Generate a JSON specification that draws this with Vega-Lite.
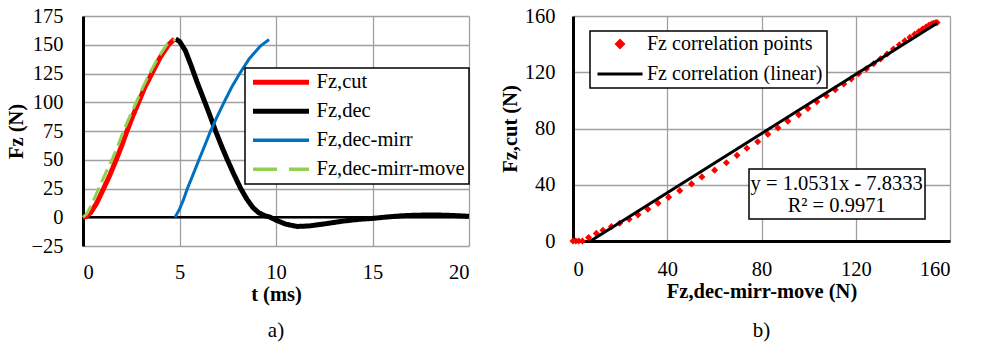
{
  "$schema": "https://vega.github.io/schema/vega-lite/v6.json",
  "background": "white",
  "padding": {"left": 6, "top": 6, "right": 5, "bottom": 2},
  "spacing": 104,
  "bounds": "flush",
  "resolve": {"scale": {"color": "independent"}, "legend": {"color": "independent"}},
  "config": {
    "font": "Liberation Serif",
    "view": {"stroke": null},
    "axis": {
      "labelFont": "Liberation Serif", "labelFontSize": 20.5, "labelColor": "black",
      "titleFont": "Liberation Serif", "titleFontSize": 20.5, "titleFontWeight": "bold", "titleColor": "black",
      "gridColor": "#a0a0a0", "gridWidth": 1.3, "gridOpacity": 1,
      "ticks": false, "tickSize": 0, "domainColor": "black", "domainWidth": 3
    },
    "legend": {"labelFont": "Liberation Serif", "labelFontSize": 20.5, "labelColor": "black", "labelLimit": 400},
    "title": {"font": "Liberation Serif", "fontSize": 21, "fontWeight": "normal", "color": "black"}
  },
  "hconcat": [
    {
      "width": 386, "height": 230,
      "title": {"text": "a)", "orient": "bottom", "offset": 15},
      "encoding": {
        "y": {"field": "F", "type": "quantitative", "scale": {"domain": [-25, 175], "nice": false},
              "axis": {"values": [-25, 0, 25, 50, 75, 100, 125, 150, 175], "title": "Fz (N)", "labelPadding": 20, "titlePadding": 4}}
      },
      "layer": [
        {
          "data": {"values": [{"F": 0}]},
          "mark": {"type": "rule", "color": "black", "strokeWidth": 2.5},
          "encoding": {}
        },
        {
          "data": {"values": [
            {"series": "Fz,cut", "t": 0, "F": 0}, {"series": "Fz,cut", "t": 0.15, "F": 0.5}, {"series": "Fz,cut", "t": 0.4, "F": 4},
            {"series": "Fz,cut", "t": 0.7, "F": 12}, {"series": "Fz,cut", "t": 1.07, "F": 25}, {"series": "Fz,cut", "t": 1.4, "F": 37},
            {"series": "Fz,cut", "t": 1.72, "F": 50}, {"series": "Fz,cut", "t": 2.0, "F": 62}, {"series": "Fz,cut", "t": 2.28, "F": 75},
            {"series": "Fz,cut", "t": 2.58, "F": 88}, {"series": "Fz,cut", "t": 2.88, "F": 100}, {"series": "Fz,cut", "t": 3.2, "F": 113},
            {"series": "Fz,cut", "t": 3.57, "F": 125}, {"series": "Fz,cut", "t": 4.0, "F": 139}, {"series": "Fz,cut", "t": 4.43, "F": 150},
            {"series": "Fz,cut", "t": 4.74, "F": 155},
            {"series": "Fz,dec", "t": 4.8, "F": 155}, {"series": "Fz,dec", "t": 5.0, "F": 153}, {"series": "Fz,dec", "t": 5.3, "F": 145},
            {"series": "Fz,dec", "t": 5.6, "F": 132}, {"series": "Fz,dec", "t": 5.9, "F": 118}, {"series": "Fz,dec", "t": 6.2, "F": 105},
            {"series": "Fz,dec", "t": 6.5, "F": 92}, {"series": "Fz,dec", "t": 6.87, "F": 75}, {"series": "Fz,dec", "t": 7.2, "F": 61},
            {"series": "Fz,dec", "t": 7.48, "F": 50}, {"series": "Fz,dec", "t": 7.8, "F": 38}, {"series": "Fz,dec", "t": 8.17, "F": 25},
            {"series": "Fz,dec", "t": 8.5, "F": 15.5}, {"series": "Fz,dec", "t": 8.8, "F": 8.5}, {"series": "Fz,dec", "t": 9.1, "F": 4},
            {"series": "Fz,dec", "t": 9.4, "F": 1.5}, {"series": "Fz,dec", "t": 9.7, "F": 0}, {"series": "Fz,dec", "t": 10.0, "F": -2.5},
            {"series": "Fz,dec", "t": 10.5, "F": -6}, {"series": "Fz,dec", "t": 11.1, "F": -8}, {"series": "Fz,dec", "t": 11.7, "F": -7.6},
            {"series": "Fz,dec", "t": 12.5, "F": -5.8}, {"series": "Fz,dec", "t": 13.5, "F": -3.3}, {"series": "Fz,dec", "t": 14.3, "F": -1.8},
            {"series": "Fz,dec", "t": 15.0, "F": -1}, {"series": "Fz,dec", "t": 15.8, "F": 0.3}, {"series": "Fz,dec", "t": 16.5, "F": 1.3},
            {"series": "Fz,dec", "t": 17.3, "F": 1.8}, {"series": "Fz,dec", "t": 18.3, "F": 2}, {"series": "Fz,dec", "t": 19.2, "F": 1.5},
            {"series": "Fz,dec", "t": 20, "F": 0.8},
            {"series": "Fz,dec-mirr", "t": 4.77, "F": 0}, {"series": "Fz,dec-mirr", "t": 5.0, "F": 7}, {"series": "Fz,dec-mirr", "t": 5.2, "F": 15},
            {"series": "Fz,dec-mirr", "t": 5.41, "F": 25}, {"series": "Fz,dec-mirr", "t": 5.7, "F": 37}, {"series": "Fz,dec-mirr", "t": 6.01, "F": 50},
            {"series": "Fz,dec-mirr", "t": 6.3, "F": 62}, {"series": "Fz,dec-mirr", "t": 6.61, "F": 75}, {"series": "Fz,dec-mirr", "t": 6.95, "F": 87.5},
            {"series": "Fz,dec-mirr", "t": 7.31, "F": 100}, {"series": "Fz,dec-mirr", "t": 7.7, "F": 113}, {"series": "Fz,dec-mirr", "t": 8.12, "F": 125},
            {"series": "Fz,dec-mirr", "t": 8.6, "F": 137.5}, {"series": "Fz,dec-mirr", "t": 9.2, "F": 149}, {"series": "Fz,dec-mirr", "t": 9.64, "F": 154.5},
            {"series": "Fz,dec-mirr-move", "t": 0, "F": 0}, {"series": "Fz,dec-mirr-move", "t": 0.2, "F": 3}, {"series": "Fz,dec-mirr-move", "t": 0.45, "F": 11},
            {"series": "Fz,dec-mirr-move", "t": 0.81, "F": 25}, {"series": "Fz,dec-mirr-move", "t": 1.15, "F": 37.5}, {"series": "Fz,dec-mirr-move", "t": 1.5, "F": 50},
            {"series": "Fz,dec-mirr-move", "t": 1.8, "F": 62}, {"series": "Fz,dec-mirr-move", "t": 2.1, "F": 75}, {"series": "Fz,dec-mirr-move", "t": 2.43, "F": 88},
            {"series": "Fz,dec-mirr-move", "t": 2.76, "F": 100}, {"series": "Fz,dec-mirr-move", "t": 3.1, "F": 113}, {"series": "Fz,dec-mirr-move", "t": 3.45, "F": 125},
            {"series": "Fz,dec-mirr-move", "t": 3.9, "F": 139}, {"series": "Fz,dec-mirr-move", "t": 4.34, "F": 150}, {"series": "Fz,dec-mirr-move", "t": 4.78, "F": 154.5}
          ]},
          "mark": {"type": "line", "strokeJoin": "round"},
          "encoding": {
            "x": {"field": "t", "type": "quantitative", "scale": {"domain": [0, 20], "nice": false},
                  "axis": {"values": [0, 5, 10, 15, 20], "title": "t (ms)", "labelPadding": 16, "titlePadding": 2, "domain": false}},
            "color": {"field": "series", "type": "nominal", "sort": null,
              "scale": {"domain": ["Fz,cut", "Fz,dec", "Fz,dec-mirr", "Fz,dec-mirr-move"], "range": ["#ff0000", "#000000", "#0070c0", "#92d050"]},
              "legend": {"title": null, "orient": "none", "legendX": 162, "legendY": 52,
                "fillColor": "white", "strokeColor": "black", "padding": 4,
                "symbolType": "stroke", "symbolSize": 3136, "symbolStrokeWidth": 5,
                "clipHeight": 20.6, "rowPadding": 8, "symbolOffset": 1.5, "labelOffset": 5,
                "encode": {
                  "symbols": {"update": {
                    "size": {"value": 3136},
                    "strokeWidth": {"signal": "((datum.value === 'Fz,dec-mirr' || datum.value === 'Fz,dec-mirr-move') ? 3.5 : 5)"},
                    "strokeDash": {"signal": "((datum.value === 'Fz,dec-mirr-move') ? [24, 12] : [1, 0])"}
                  }},
                  "legend": {"update": {"strokeWidth": {"value": 1.5}}}
                }}},
            "strokeWidth": {"condition": {"test": "datum.series === 'Fz,dec-mirr' || datum.series === 'Fz,dec-mirr-move'", "value": 3}, "value": 5},
            "strokeDash": {"condition": {"test": "datum.series === 'Fz,dec-mirr-move'", "value": [14, 6]}, "value": [1, 0]}
          }
        }
      ]
    },
    {
      "width": 377, "height": 225,
      "title": {"text": "b)", "orient": "bottom", "offset": 18},
      "encoding": {
        "x": {"field": "Fdmm", "type": "quantitative", "scale": {"domain": [0, 160], "nice": false},
              "axis": {"values": [0, 40, 80, 120, 160], "title": "Fz,dec-mirr-move (N)", "labelPadding": 18, "titlePadding": 2}},
        "y": {"field": "Fcut", "type": "quantitative", "scale": {"domain": [0, 160], "nice": false},
              "axis": {"values": [0, 40, 80, 120, 160], "title": "Fz,cut (N)", "labelPadding": 18, "titlePadding": 4}}
      },
      "layer": [
        {
          "data": {"values": [
            {"Fdmm": 0, "Fcut": 0}, {"Fdmm": 1.2, "Fcut": 0}, {"Fdmm": 2.4, "Fcut": 0}, {"Fdmm": 4, "Fcut": 0},
            {"Fdmm": 6.6, "Fcut": 2.5}, {"Fdmm": 9.9, "Fcut": 5.4}, {"Fdmm": 12.7, "Fcut": 7.6}, {"Fdmm": 16.3, "Fcut": 10.2},
            {"Fdmm": 19.8, "Fcut": 12.6}, {"Fdmm": 23.8, "Fcut": 15.5}, {"Fdmm": 27.6, "Fcut": 18.6}, {"Fdmm": 31.8, "Fcut": 22.6},
            {"Fdmm": 36.1, "Fcut": 26.9}, {"Fdmm": 40.6, "Fcut": 31.2}, {"Fdmm": 45.3, "Fcut": 35.8}, {"Fdmm": 50.3, "Fcut": 40.6},
            {"Fdmm": 54.7, "Fcut": 45.6}, {"Fdmm": 60.1, "Fcut": 50.4}, {"Fdmm": 65.1, "Fcut": 55.6}, {"Fdmm": 69.6, "Fcut": 60.9},
            {"Fdmm": 73.8, "Fcut": 65.9}, {"Fdmm": 78.4, "Fcut": 70.6}, {"Fdmm": 82.7, "Fcut": 75.9}, {"Fdmm": 87, "Fcut": 80.4},
            {"Fdmm": 91.2, "Fcut": 85.2}, {"Fdmm": 95.8, "Fcut": 89.7}, {"Fdmm": 99.7, "Fcut": 94.3}, {"Fdmm": 103.5, "Fcut": 99},
            {"Fdmm": 107.5, "Fcut": 103.3}, {"Fdmm": 111.3, "Fcut": 107.6}, {"Fdmm": 114.9, "Fcut": 111.7}, {"Fdmm": 118.1, "Fcut": 115.3},
            {"Fdmm": 121.2, "Fcut": 118.9}, {"Fdmm": 124.5, "Fcut": 122.4}, {"Fdmm": 127.6, "Fcut": 126}, {"Fdmm": 130.5, "Fcut": 129.5},
            {"Fdmm": 133.3, "Fcut": 133}, {"Fdmm": 136, "Fcut": 136.5}, {"Fdmm": 138.5, "Fcut": 139.5}, {"Fdmm": 140.8, "Fcut": 142.3},
            {"Fdmm": 143, "Fcut": 144.8}, {"Fdmm": 145, "Fcut": 147}, {"Fdmm": 146.8, "Fcut": 149}, {"Fdmm": 148.4, "Fcut": 150.8},
            {"Fdmm": 149.8, "Fcut": 152.2}, {"Fdmm": 151, "Fcut": 153.4}, {"Fdmm": 152.1, "Fcut": 154.2}, {"Fdmm": 153, "Fcut": 154.8},
            {"Fdmm": 153.8, "Fcut": 155.2}, {"Fdmm": 154.5, "Fcut": 155.3}
          ]},
          "transform": [{"calculate": "'Fz correlation points'", "as": "series"}],
          "mark": {"type": "point", "shape": "diamond", "filled": true, "size": 50, "opacity": 1},
          "encoding": {
            "color": {"field": "series", "type": "nominal", "sort": null,
              "scale": {"domain": ["Fz correlation points", "Fz correlation (linear)"], "range": ["#ff0000", "#000000"]},
              "legend": {"title": null, "orient": "none", "legendX": 17, "legendY": 15,
                "fillColor": "white", "strokeColor": "black", "padding": 4,
                "symbolType": "stroke", "symbolSize": 2025, "symbolStrokeWidth": 3,
                "clipHeight": 18, "rowPadding": 10, "symbolOffset": 2, "labelOffset": 3, "labelFontSize": 20,
                "encode": {
                  "symbols": {"update": {
                    "shape": {"signal": "((datum.value === 'Fz correlation points') ? 'diamond' : 'stroke')"},
                    "size": {"signal": "((datum.value === 'Fz correlation points') ? 45 : 2025)"},
                    "x": {"value": 26},
                    "fill": {"signal": "((datum.value === 'Fz correlation points') ? '#ff0000' : 'transparent')"},
                    "stroke": {"signal": "((datum.value === 'Fz correlation points') ? 'transparent' : '#000000')"},
                    "strokeWidth": {"value": 3},
                    "opacity": {"value": 1}
                  }},
                  "legend": {"update": {"strokeWidth": {"value": 1.5}}}
                }}}
          }
        },
        {
          "data": {"values": [
            {"Fdmm": 7.44, "Fcut": 0, "series": "Fz correlation (linear)"},
            {"Fdmm": 154.5, "Fcut": 154.9, "series": "Fz correlation (linear)"}
          ]},
          "mark": {"type": "line", "strokeWidth": 3},
          "encoding": {
            "color": {"field": "series", "type": "nominal", "sort": null,
              "legend": {"title": null, "orient": "none", "legendX": 17, "legendY": 15,
                "fillColor": "white", "strokeColor": "black", "padding": 4,
                "symbolType": "stroke", "symbolSize": 2025, "symbolStrokeWidth": 3,
                "clipHeight": 18, "rowPadding": 10, "symbolOffset": 2, "labelOffset": 3, "labelFontSize": 20,
                "encode": {
                  "symbols": {"update": {
                    "shape": {"signal": "((datum.value === 'Fz correlation points') ? 'diamond' : 'stroke')"},
                    "size": {"signal": "((datum.value === 'Fz correlation points') ? 45 : 2025)"},
                    "x": {"value": 26},
                    "fill": {"signal": "((datum.value === 'Fz correlation points') ? '#ff0000' : 'transparent')"},
                    "stroke": {"signal": "((datum.value === 'Fz correlation points') ? 'transparent' : '#000000')"},
                    "strokeWidth": {"value": 3},
                    "opacity": {"value": 1}
                  }},
                  "legend": {"update": {"strokeWidth": {"value": 1.5}}}
                }}}
          }
        },
        {
          "data": {"values": [{"Fdmm": 74.7, "Fdmm2": 149.4, "Fcut": 15.6, "Fcut2": 51.2}]},
          "mark": {"type": "rect", "fill": "white", "stroke": "black", "strokeWidth": 1.5},
          "encoding": {
            "x2": {"field": "Fdmm2"},
            "y2": {"field": "Fcut2"}
          }
        },
        {
          "data": {"values": [
            {"Fdmm": 111.9, "Fcut": 40.5, "label": "y = 1.0531x - 7.8333"},
            {"Fdmm": 111.9, "Fcut": 24.9, "label": "R² = 0.9971"}
          ]},
          "mark": {"type": "text", "fontSize": 20.5, "font": "Liberation Serif", "align": "center", "baseline": "middle", "color": "black"},
          "encoding": {
            "text": {"field": "label"}
          }
        }
      ]
    }
  ]
}
